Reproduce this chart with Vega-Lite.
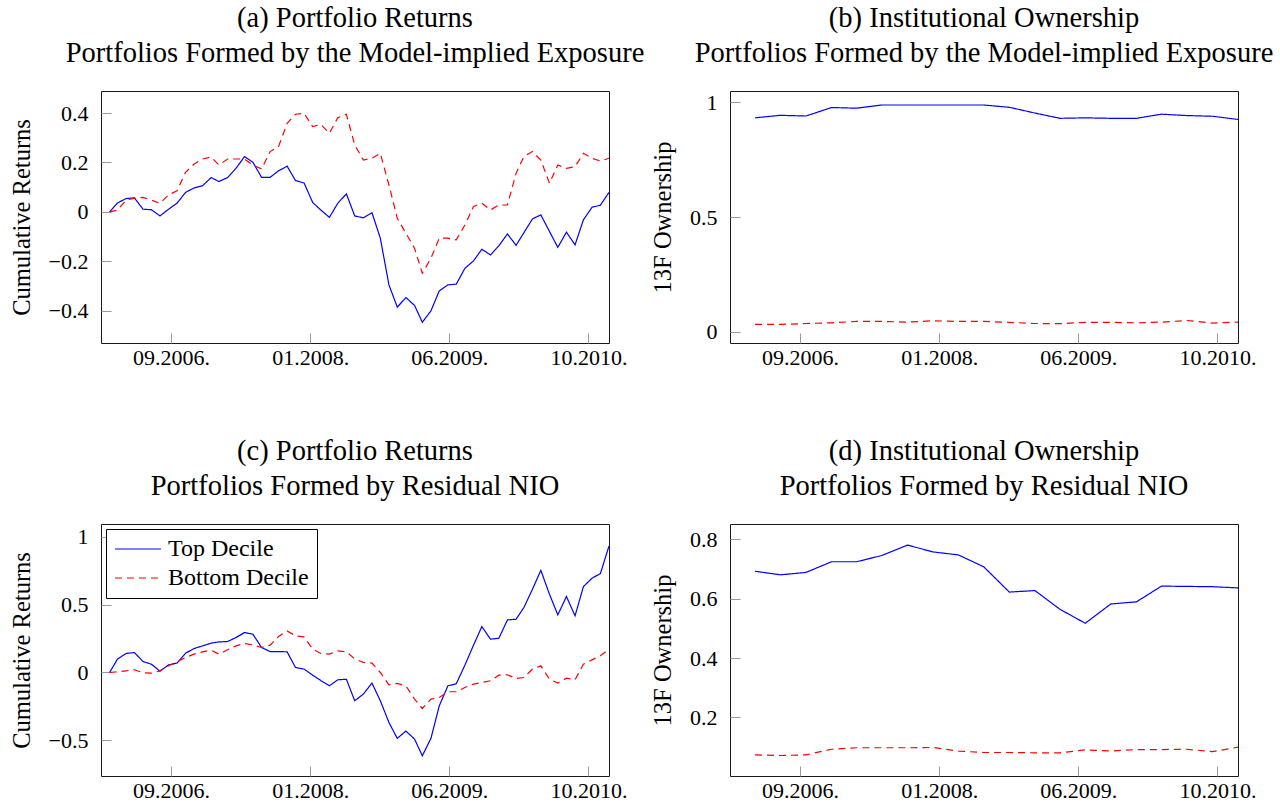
{
  "$schema": "https://vega.github.io/schema/vega-lite/v6.json",
  "background": "white",
  "padding": {"left": 8, "top": 3, "right": 0, "bottom": 0},
  "autosize": {"type": "pad"},
  "columns": 2,
  "spacing": {"row": 181, "column": 121},
  "bounds": "flush",
  "resolve": {"scale": {"x": "independent", "y": "independent", "color": "independent", "strokeDash": "independent"}},
  "datasets": {
    "returns_exposure": [
      {"date": "2006-02-01", "series": "Top Decile", "value": 0},
      {"date": "2006-03-01", "series": "Top Decile", "value": 0.036},
      {"date": "2006-04-01", "series": "Top Decile", "value": 0.054},
      {"date": "2006-05-01", "series": "Top Decile", "value": 0.057},
      {"date": "2006-06-01", "series": "Top Decile", "value": 0.011},
      {"date": "2006-07-01", "series": "Top Decile", "value": 0.009},
      {"date": "2006-08-01", "series": "Top Decile", "value": -0.016},
      {"date": "2006-09-01", "series": "Top Decile", "value": 0.011},
      {"date": "2006-10-01", "series": "Top Decile", "value": 0.035},
      {"date": "2006-11-01", "series": "Top Decile", "value": 0.079},
      {"date": "2006-12-01", "series": "Top Decile", "value": 0.097},
      {"date": "2007-01-01", "series": "Top Decile", "value": 0.106},
      {"date": "2007-02-01", "series": "Top Decile", "value": 0.139},
      {"date": "2007-03-01", "series": "Top Decile", "value": 0.123},
      {"date": "2007-04-01", "series": "Top Decile", "value": 0.139},
      {"date": "2007-05-01", "series": "Top Decile", "value": 0.176},
      {"date": "2007-06-01", "series": "Top Decile", "value": 0.224},
      {"date": "2007-07-01", "series": "Top Decile", "value": 0.201},
      {"date": "2007-08-01", "series": "Top Decile", "value": 0.140},
      {"date": "2007-09-01", "series": "Top Decile", "value": 0.140},
      {"date": "2007-10-01", "series": "Top Decile", "value": 0.166},
      {"date": "2007-11-01", "series": "Top Decile", "value": 0.185},
      {"date": "2007-12-01", "series": "Top Decile", "value": 0.127},
      {"date": "2008-01-01", "series": "Top Decile", "value": 0.117},
      {"date": "2008-02-01", "series": "Top Decile", "value": 0.038},
      {"date": "2008-03-01", "series": "Top Decile", "value": 0.008},
      {"date": "2008-04-01", "series": "Top Decile", "value": -0.022},
      {"date": "2008-05-01", "series": "Top Decile", "value": 0.035},
      {"date": "2008-06-01", "series": "Top Decile", "value": 0.073},
      {"date": "2008-07-01", "series": "Top Decile", "value": -0.016},
      {"date": "2008-08-01", "series": "Top Decile", "value": -0.024},
      {"date": "2008-09-01", "series": "Top Decile", "value": -0.003},
      {"date": "2008-10-01", "series": "Top Decile", "value": -0.106},
      {"date": "2008-11-01", "series": "Top Decile", "value": -0.295},
      {"date": "2008-12-01", "series": "Top Decile", "value": -0.385},
      {"date": "2009-01-01", "series": "Top Decile", "value": -0.346},
      {"date": "2009-02-01", "series": "Top Decile", "value": -0.378},
      {"date": "2009-03-01", "series": "Top Decile", "value": -0.446},
      {"date": "2009-04-01", "series": "Top Decile", "value": -0.400},
      {"date": "2009-05-01", "series": "Top Decile", "value": -0.319},
      {"date": "2009-06-01", "series": "Top Decile", "value": -0.295},
      {"date": "2009-07-01", "series": "Top Decile", "value": -0.292},
      {"date": "2009-08-01", "series": "Top Decile", "value": -0.228},
      {"date": "2009-09-01", "series": "Top Decile", "value": -0.198},
      {"date": "2009-10-01", "series": "Top Decile", "value": -0.151},
      {"date": "2009-11-01", "series": "Top Decile", "value": -0.174},
      {"date": "2009-12-01", "series": "Top Decile", "value": -0.137},
      {"date": "2010-01-01", "series": "Top Decile", "value": -0.089},
      {"date": "2010-02-01", "series": "Top Decile", "value": -0.135},
      {"date": "2010-03-01", "series": "Top Decile", "value": -0.084},
      {"date": "2010-04-01", "series": "Top Decile", "value": -0.028},
      {"date": "2010-05-01", "series": "Top Decile", "value": -0.012},
      {"date": "2010-06-01", "series": "Top Decile", "value": -0.079},
      {"date": "2010-07-01", "series": "Top Decile", "value": -0.143},
      {"date": "2010-08-01", "series": "Top Decile", "value": -0.082},
      {"date": "2010-09-01", "series": "Top Decile", "value": -0.133},
      {"date": "2010-10-01", "series": "Top Decile", "value": -0.032},
      {"date": "2010-11-01", "series": "Top Decile", "value": 0.019},
      {"date": "2010-12-01", "series": "Top Decile", "value": 0.027},
      {"date": "2011-01-01", "series": "Top Decile", "value": 0.079},
      {"date": "2006-02-01", "series": "Bottom Decile", "value": 0},
      {"date": "2006-03-01", "series": "Bottom Decile", "value": 0.007},
      {"date": "2006-04-01", "series": "Bottom Decile", "value": 0.048},
      {"date": "2006-05-01", "series": "Bottom Decile", "value": 0.055},
      {"date": "2006-06-01", "series": "Bottom Decile", "value": 0.059},
      {"date": "2006-07-01", "series": "Bottom Decile", "value": 0.048},
      {"date": "2006-08-01", "series": "Bottom Decile", "value": 0.035},
      {"date": "2006-09-01", "series": "Bottom Decile", "value": 0.069},
      {"date": "2006-10-01", "series": "Bottom Decile", "value": 0.085},
      {"date": "2006-11-01", "series": "Bottom Decile", "value": 0.160},
      {"date": "2006-12-01", "series": "Bottom Decile", "value": 0.193},
      {"date": "2007-01-01", "series": "Bottom Decile", "value": 0.214},
      {"date": "2007-02-01", "series": "Bottom Decile", "value": 0.222},
      {"date": "2007-03-01", "series": "Bottom Decile", "value": 0.190},
      {"date": "2007-04-01", "series": "Bottom Decile", "value": 0.214},
      {"date": "2007-05-01", "series": "Bottom Decile", "value": 0.214},
      {"date": "2007-06-01", "series": "Bottom Decile", "value": 0.214},
      {"date": "2007-07-01", "series": "Bottom Decile", "value": 0.190},
      {"date": "2007-08-01", "series": "Bottom Decile", "value": 0.174},
      {"date": "2007-09-01", "series": "Bottom Decile", "value": 0.244},
      {"date": "2007-10-01", "series": "Bottom Decile", "value": 0.264},
      {"date": "2007-11-01", "series": "Bottom Decile", "value": 0.358},
      {"date": "2007-12-01", "series": "Bottom Decile", "value": 0.395},
      {"date": "2008-01-01", "series": "Bottom Decile", "value": 0.399},
      {"date": "2008-02-01", "series": "Bottom Decile", "value": 0.345},
      {"date": "2008-03-01", "series": "Bottom Decile", "value": 0.354},
      {"date": "2008-04-01", "series": "Bottom Decile", "value": 0.318},
      {"date": "2008-05-01", "series": "Bottom Decile", "value": 0.381},
      {"date": "2008-06-01", "series": "Bottom Decile", "value": 0.395},
      {"date": "2008-07-01", "series": "Bottom Decile", "value": 0.271},
      {"date": "2008-08-01", "series": "Bottom Decile", "value": 0.210},
      {"date": "2008-09-01", "series": "Bottom Decile", "value": 0.217},
      {"date": "2008-10-01", "series": "Bottom Decile", "value": 0.237},
      {"date": "2008-11-01", "series": "Bottom Decile", "value": 0.109},
      {"date": "2008-12-01", "series": "Bottom Decile", "value": -0.026},
      {"date": "2009-01-01", "series": "Bottom Decile", "value": -0.086},
      {"date": "2009-02-01", "series": "Bottom Decile", "value": -0.147},
      {"date": "2009-03-01", "series": "Bottom Decile", "value": -0.248},
      {"date": "2009-04-01", "series": "Bottom Decile", "value": -0.187},
      {"date": "2009-05-01", "series": "Bottom Decile", "value": -0.106},
      {"date": "2009-06-01", "series": "Bottom Decile", "value": -0.106},
      {"date": "2009-07-01", "series": "Bottom Decile", "value": -0.113},
      {"date": "2009-08-01", "series": "Bottom Decile", "value": -0.053},
      {"date": "2009-09-01", "series": "Bottom Decile", "value": 0.022},
      {"date": "2009-10-01", "series": "Bottom Decile", "value": 0.035},
      {"date": "2009-11-01", "series": "Bottom Decile", "value": 0.008},
      {"date": "2009-12-01", "series": "Bottom Decile", "value": 0.028},
      {"date": "2010-01-01", "series": "Bottom Decile", "value": 0.028},
      {"date": "2010-02-01", "series": "Bottom Decile", "value": 0.156},
      {"date": "2010-03-01", "series": "Bottom Decile", "value": 0.224},
      {"date": "2010-04-01", "series": "Bottom Decile", "value": 0.244},
      {"date": "2010-05-01", "series": "Bottom Decile", "value": 0.210},
      {"date": "2010-06-01", "series": "Bottom Decile", "value": 0.116},
      {"date": "2010-07-01", "series": "Bottom Decile", "value": 0.190},
      {"date": "2010-08-01", "series": "Bottom Decile", "value": 0.176},
      {"date": "2010-09-01", "series": "Bottom Decile", "value": 0.183},
      {"date": "2010-10-01", "series": "Bottom Decile", "value": 0.237},
      {"date": "2010-11-01", "series": "Bottom Decile", "value": 0.217},
      {"date": "2010-12-01", "series": "Bottom Decile", "value": 0.206},
      {"date": "2011-01-01", "series": "Bottom Decile", "value": 0.217}
    ],
    "ownership_exposure": [
      {"date": "2006-04-01", "series": "Top Decile", "value": 0.932},
      {"date": "2006-07-01", "series": "Top Decile", "value": 0.943},
      {"date": "2006-10-01", "series": "Top Decile", "value": 0.940},
      {"date": "2007-01-01", "series": "Top Decile", "value": 0.977},
      {"date": "2007-04-01", "series": "Top Decile", "value": 0.974},
      {"date": "2007-07-01", "series": "Top Decile", "value": 0.988},
      {"date": "2007-10-01", "series": "Top Decile", "value": 0.988},
      {"date": "2008-01-01", "series": "Top Decile", "value": 0.988},
      {"date": "2008-04-01", "series": "Top Decile", "value": 0.988},
      {"date": "2008-07-01", "series": "Top Decile", "value": 0.988},
      {"date": "2008-10-01", "series": "Top Decile", "value": 0.978},
      {"date": "2009-01-01", "series": "Top Decile", "value": 0.953},
      {"date": "2009-04-01", "series": "Top Decile", "value": 0.930},
      {"date": "2009-07-01", "series": "Top Decile", "value": 0.932},
      {"date": "2009-10-01", "series": "Top Decile", "value": 0.930},
      {"date": "2010-01-01", "series": "Top Decile", "value": 0.930},
      {"date": "2010-04-01", "series": "Top Decile", "value": 0.948},
      {"date": "2010-07-01", "series": "Top Decile", "value": 0.942},
      {"date": "2010-10-01", "series": "Top Decile", "value": 0.939},
      {"date": "2011-01-01", "series": "Top Decile", "value": 0.925},
      {"date": "2006-04-01", "series": "Bottom Decile", "value": 0.032},
      {"date": "2006-07-01", "series": "Bottom Decile", "value": 0.032},
      {"date": "2006-10-01", "series": "Bottom Decile", "value": 0.036},
      {"date": "2007-01-01", "series": "Bottom Decile", "value": 0.039},
      {"date": "2007-04-01", "series": "Bottom Decile", "value": 0.045},
      {"date": "2007-07-01", "series": "Bottom Decile", "value": 0.045},
      {"date": "2007-10-01", "series": "Bottom Decile", "value": 0.042},
      {"date": "2008-01-01", "series": "Bottom Decile", "value": 0.048},
      {"date": "2008-04-01", "series": "Bottom Decile", "value": 0.045},
      {"date": "2008-07-01", "series": "Bottom Decile", "value": 0.045},
      {"date": "2008-10-01", "series": "Bottom Decile", "value": 0.041},
      {"date": "2009-01-01", "series": "Bottom Decile", "value": 0.036},
      {"date": "2009-04-01", "series": "Bottom Decile", "value": 0.035},
      {"date": "2009-07-01", "series": "Bottom Decile", "value": 0.041},
      {"date": "2009-10-01", "series": "Bottom Decile", "value": 0.041},
      {"date": "2010-01-01", "series": "Bottom Decile", "value": 0.039},
      {"date": "2010-04-01", "series": "Bottom Decile", "value": 0.042},
      {"date": "2010-07-01", "series": "Bottom Decile", "value": 0.049},
      {"date": "2010-10-01", "series": "Bottom Decile", "value": 0.038},
      {"date": "2011-01-01", "series": "Bottom Decile", "value": 0.042}
    ],
    "returns_nio": [
      {"date": "2006-02-01", "series": "Top Decile", "value": 0},
      {"date": "2006-03-01", "series": "Top Decile", "value": 0.098},
      {"date": "2006-04-01", "series": "Top Decile", "value": 0.140},
      {"date": "2006-05-01", "series": "Top Decile", "value": 0.147},
      {"date": "2006-06-01", "series": "Top Decile", "value": 0.081},
      {"date": "2006-07-01", "series": "Top Decile", "value": 0.061},
      {"date": "2006-08-01", "series": "Top Decile", "value": 0.010},
      {"date": "2006-09-01", "series": "Top Decile", "value": 0.056},
      {"date": "2006-10-01", "series": "Top Decile", "value": 0.069},
      {"date": "2006-11-01", "series": "Top Decile", "value": 0.142},
      {"date": "2006-12-01", "series": "Top Decile", "value": 0.176},
      {"date": "2007-01-01", "series": "Top Decile", "value": 0.196},
      {"date": "2007-02-01", "series": "Top Decile", "value": 0.216},
      {"date": "2007-03-01", "series": "Top Decile", "value": 0.225},
      {"date": "2007-04-01", "series": "Top Decile", "value": 0.228},
      {"date": "2007-05-01", "series": "Top Decile", "value": 0.257},
      {"date": "2007-06-01", "series": "Top Decile", "value": 0.294},
      {"date": "2007-07-01", "series": "Top Decile", "value": 0.282},
      {"date": "2007-08-01", "series": "Top Decile", "value": 0.184},
      {"date": "2007-09-01", "series": "Top Decile", "value": 0.154},
      {"date": "2007-10-01", "series": "Top Decile", "value": 0.154},
      {"date": "2007-11-01", "series": "Top Decile", "value": 0.152},
      {"date": "2007-12-01", "series": "Top Decile", "value": 0.037},
      {"date": "2008-01-01", "series": "Top Decile", "value": 0.025},
      {"date": "2008-02-01", "series": "Top Decile", "value": -0.020},
      {"date": "2008-03-01", "series": "Top Decile", "value": -0.059},
      {"date": "2008-04-01", "series": "Top Decile", "value": -0.098},
      {"date": "2008-05-01", "series": "Top Decile", "value": -0.054},
      {"date": "2008-06-01", "series": "Top Decile", "value": -0.050},
      {"date": "2008-07-01", "series": "Top Decile", "value": -0.208},
      {"date": "2008-08-01", "series": "Top Decile", "value": -0.159},
      {"date": "2008-09-01", "series": "Top Decile", "value": -0.078},
      {"date": "2008-10-01", "series": "Top Decile", "value": -0.208},
      {"date": "2008-11-01", "series": "Top Decile", "value": -0.368},
      {"date": "2008-12-01", "series": "Top Decile", "value": -0.485},
      {"date": "2009-01-01", "series": "Top Decile", "value": -0.431},
      {"date": "2009-02-01", "series": "Top Decile", "value": -0.490},
      {"date": "2009-03-01", "series": "Top Decile", "value": -0.613},
      {"date": "2009-04-01", "series": "Top Decile", "value": -0.485},
      {"date": "2009-05-01", "series": "Top Decile", "value": -0.245},
      {"date": "2009-06-01", "series": "Top Decile", "value": -0.098},
      {"date": "2009-07-01", "series": "Top Decile", "value": -0.083},
      {"date": "2009-08-01", "series": "Top Decile", "value": 0.054},
      {"date": "2009-09-01", "series": "Top Decile", "value": 0.201},
      {"date": "2009-10-01", "series": "Top Decile", "value": 0.338},
      {"date": "2009-11-01", "series": "Top Decile", "value": 0.245},
      {"date": "2009-12-01", "series": "Top Decile", "value": 0.252},
      {"date": "2010-01-01", "series": "Top Decile", "value": 0.387},
      {"date": "2010-02-01", "series": "Top Decile", "value": 0.392},
      {"date": "2010-03-01", "series": "Top Decile", "value": 0.478},
      {"date": "2010-04-01", "series": "Top Decile", "value": 0.613},
      {"date": "2010-05-01", "series": "Top Decile", "value": 0.752},
      {"date": "2010-06-01", "series": "Top Decile", "value": 0.576},
      {"date": "2010-07-01", "series": "Top Decile", "value": 0.424},
      {"date": "2010-08-01", "series": "Top Decile", "value": 0.559},
      {"date": "2010-09-01", "series": "Top Decile", "value": 0.417},
      {"date": "2010-10-01", "series": "Top Decile", "value": 0.632},
      {"date": "2010-11-01", "series": "Top Decile", "value": 0.694},
      {"date": "2010-12-01", "series": "Top Decile", "value": 0.728},
      {"date": "2011-01-01", "series": "Top Decile", "value": 0.931},
      {"date": "2006-02-01", "series": "Bottom Decile", "value": 0},
      {"date": "2006-03-01", "series": "Bottom Decile", "value": 0.005},
      {"date": "2006-04-01", "series": "Bottom Decile", "value": 0.012},
      {"date": "2006-05-01", "series": "Bottom Decile", "value": 0.020},
      {"date": "2006-06-01", "series": "Bottom Decile", "value": -0.002},
      {"date": "2006-07-01", "series": "Bottom Decile", "value": -0.005},
      {"date": "2006-08-01", "series": "Bottom Decile", "value": 0.012},
      {"date": "2006-09-01", "series": "Bottom Decile", "value": 0.049},
      {"date": "2006-10-01", "series": "Bottom Decile", "value": 0.078},
      {"date": "2006-11-01", "series": "Bottom Decile", "value": 0.110},
      {"date": "2006-12-01", "series": "Bottom Decile", "value": 0.135},
      {"date": "2007-01-01", "series": "Bottom Decile", "value": 0.152},
      {"date": "2007-02-01", "series": "Bottom Decile", "value": 0.164},
      {"date": "2007-03-01", "series": "Bottom Decile", "value": 0.135},
      {"date": "2007-04-01", "series": "Bottom Decile", "value": 0.167},
      {"date": "2007-05-01", "series": "Bottom Decile", "value": 0.196},
      {"date": "2007-06-01", "series": "Bottom Decile", "value": 0.213},
      {"date": "2007-07-01", "series": "Bottom Decile", "value": 0.203},
      {"date": "2007-08-01", "series": "Bottom Decile", "value": 0.184},
      {"date": "2007-09-01", "series": "Bottom Decile", "value": 0.201},
      {"date": "2007-10-01", "series": "Bottom Decile", "value": 0.265},
      {"date": "2007-11-01", "series": "Bottom Decile", "value": 0.306},
      {"date": "2007-12-01", "series": "Bottom Decile", "value": 0.270},
      {"date": "2008-01-01", "series": "Bottom Decile", "value": 0.262},
      {"date": "2008-02-01", "series": "Bottom Decile", "value": 0.172},
      {"date": "2008-03-01", "series": "Bottom Decile", "value": 0.140},
      {"date": "2008-04-01", "series": "Bottom Decile", "value": 0.135},
      {"date": "2008-05-01", "series": "Bottom Decile", "value": 0.159},
      {"date": "2008-06-01", "series": "Bottom Decile", "value": 0.152},
      {"date": "2008-07-01", "series": "Bottom Decile", "value": 0.100},
      {"date": "2008-08-01", "series": "Bottom Decile", "value": 0.074},
      {"date": "2008-09-01", "series": "Bottom Decile", "value": 0.069},
      {"date": "2008-10-01", "series": "Bottom Decile", "value": 0.000},
      {"date": "2008-11-01", "series": "Bottom Decile", "value": -0.091},
      {"date": "2008-12-01", "series": "Bottom Decile", "value": -0.081},
      {"date": "2009-01-01", "series": "Bottom Decile", "value": -0.098},
      {"date": "2009-02-01", "series": "Bottom Decile", "value": -0.196},
      {"date": "2009-03-01", "series": "Bottom Decile", "value": -0.265},
      {"date": "2009-04-01", "series": "Bottom Decile", "value": -0.196},
      {"date": "2009-05-01", "series": "Bottom Decile", "value": -0.184},
      {"date": "2009-06-01", "series": "Bottom Decile", "value": -0.142},
      {"date": "2009-07-01", "series": "Bottom Decile", "value": -0.142},
      {"date": "2009-08-01", "series": "Bottom Decile", "value": -0.110},
      {"date": "2009-09-01", "series": "Bottom Decile", "value": -0.086},
      {"date": "2009-10-01", "series": "Bottom Decile", "value": -0.074},
      {"date": "2009-11-01", "series": "Bottom Decile", "value": -0.061},
      {"date": "2009-12-01", "series": "Bottom Decile", "value": -0.020},
      {"date": "2010-01-01", "series": "Bottom Decile", "value": -0.017},
      {"date": "2010-02-01", "series": "Bottom Decile", "value": -0.044},
      {"date": "2010-03-01", "series": "Bottom Decile", "value": -0.037},
      {"date": "2010-04-01", "series": "Bottom Decile", "value": 0.025},
      {"date": "2010-05-01", "series": "Bottom Decile", "value": 0.049},
      {"date": "2010-06-01", "series": "Bottom Decile", "value": -0.049},
      {"date": "2010-07-01", "series": "Bottom Decile", "value": -0.078},
      {"date": "2010-08-01", "series": "Bottom Decile", "value": -0.042},
      {"date": "2010-09-01", "series": "Bottom Decile", "value": -0.054},
      {"date": "2010-10-01", "series": "Bottom Decile", "value": 0.061},
      {"date": "2010-11-01", "series": "Bottom Decile", "value": 0.093},
      {"date": "2010-12-01", "series": "Bottom Decile", "value": 0.123},
      {"date": "2011-01-01", "series": "Bottom Decile", "value": 0.172}
    ],
    "ownership_nio": [
      {"date": "2006-04-01", "series": "Top Decile", "value": 0.692},
      {"date": "2006-07-01", "series": "Top Decile", "value": 0.680},
      {"date": "2006-10-01", "series": "Top Decile", "value": 0.688},
      {"date": "2007-01-01", "series": "Top Decile", "value": 0.724},
      {"date": "2007-04-01", "series": "Top Decile", "value": 0.724},
      {"date": "2007-07-01", "series": "Top Decile", "value": 0.745},
      {"date": "2007-10-01", "series": "Top Decile", "value": 0.780},
      {"date": "2008-01-01", "series": "Top Decile", "value": 0.757},
      {"date": "2008-04-01", "series": "Top Decile", "value": 0.747},
      {"date": "2008-07-01", "series": "Top Decile", "value": 0.707},
      {"date": "2008-10-01", "series": "Top Decile", "value": 0.622},
      {"date": "2009-01-01", "series": "Top Decile", "value": 0.627},
      {"date": "2009-04-01", "series": "Top Decile", "value": 0.564},
      {"date": "2009-07-01", "series": "Top Decile", "value": 0.517},
      {"date": "2009-10-01", "series": "Top Decile", "value": 0.582},
      {"date": "2010-01-01", "series": "Top Decile", "value": 0.589},
      {"date": "2010-04-01", "series": "Top Decile", "value": 0.642},
      {"date": "2010-07-01", "series": "Top Decile", "value": 0.641},
      {"date": "2010-10-01", "series": "Top Decile", "value": 0.640},
      {"date": "2011-01-01", "series": "Top Decile", "value": 0.636},
      {"date": "2006-04-01", "series": "Bottom Decile", "value": 0.074},
      {"date": "2006-07-01", "series": "Bottom Decile", "value": 0.072},
      {"date": "2006-10-01", "series": "Bottom Decile", "value": 0.074},
      {"date": "2007-01-01", "series": "Bottom Decile", "value": 0.093},
      {"date": "2007-04-01", "series": "Bottom Decile", "value": 0.098},
      {"date": "2007-07-01", "series": "Bottom Decile", "value": 0.098},
      {"date": "2007-10-01", "series": "Bottom Decile", "value": 0.098},
      {"date": "2008-01-01", "series": "Bottom Decile", "value": 0.099},
      {"date": "2008-04-01", "series": "Bottom Decile", "value": 0.087},
      {"date": "2008-07-01", "series": "Bottom Decile", "value": 0.082},
      {"date": "2008-10-01", "series": "Bottom Decile", "value": 0.082},
      {"date": "2009-01-01", "series": "Bottom Decile", "value": 0.081},
      {"date": "2009-04-01", "series": "Bottom Decile", "value": 0.081},
      {"date": "2009-07-01", "series": "Bottom Decile", "value": 0.091},
      {"date": "2009-10-01", "series": "Bottom Decile", "value": 0.087},
      {"date": "2010-01-01", "series": "Bottom Decile", "value": 0.092},
      {"date": "2010-04-01", "series": "Bottom Decile", "value": 0.092},
      {"date": "2010-07-01", "series": "Bottom Decile", "value": 0.093},
      {"date": "2010-10-01", "series": "Bottom Decile", "value": 0.085},
      {"date": "2011-01-01", "series": "Bottom Decile", "value": 0.100}
    ]
  },
  "concat": [
    {
      "title": {"text": ["(a) Portfolio Returns", "Portfolios Formed by the Model-implied Exposure"]},
      "width": 508, "height": 252,
      "data": {"name": "returns_exposure"},
      "mark": {"type": "line", "strokeWidth": 1.2},
      "encoding": {
        "x": {"field": "date", "type": "temporal", "title": null,
          "scale": {"type": "utc", "domain": [{"year": 2006, "month": 1, "date": 1, "utc": true}, {"year": 2011, "month": 1, "date": 1, "utc": true}]},
          "axis": {"labelExpr": "utcFormat(datum.value, '%m.%Y.')", "values": [{"year": 2006, "month": 9, "date": 10, "utc": true}, {"year": 2008, "month": 1, "date": 23, "utc": true}, {"year": 2009, "month": 6, "date": 6, "utc": true}, {"year": 2010, "month": 10, "date": 19, "utc": true}]}},
        "y": {"field": "value", "type": "quantitative", "title": "Cumulative Returns",
          "scale": {"domain": [-0.53, 0.489], "nice": false, "zero": false},
          "axis": {"values": [-0.4, -0.2, 0, 0.2, 0.4], "format": "~g"}},
        "color": {"field": "series", "type": "nominal", "scale": {"domain": ["Top Decile", "Bottom Decile"], "range": ["#0000ff", "#ff0000"]}, "legend": null},
        "strokeDash": {"field": "series", "type": "nominal", "scale": {"domain": ["Top Decile", "Bottom Decile"], "range": [[1, 0], [7, 5]]}, "legend": null}
      }
    },
    {
      "title": {"text": ["(b) Institutional Ownership", "Portfolios Formed by the Model-implied Exposure"]},
      "width": 508, "height": 252,
      "data": {"name": "ownership_exposure"},
      "mark": {"type": "line", "strokeWidth": 1.2},
      "encoding": {
        "x": {"field": "date", "type": "temporal", "title": null,
          "scale": {"type": "utc", "domain": [{"year": 2006, "month": 1, "date": 1, "utc": true}, {"year": 2011, "month": 1, "date": 1, "utc": true}]},
          "axis": {"labelExpr": "utcFormat(datum.value, '%m.%Y.')", "values": [{"year": 2006, "month": 9, "date": 10, "utc": true}, {"year": 2008, "month": 1, "date": 23, "utc": true}, {"year": 2009, "month": 6, "date": 6, "utc": true}, {"year": 2010, "month": 10, "date": 19, "utc": true}]}},
        "y": {"field": "value", "type": "quantitative", "title": "13F Ownership",
          "scale": {"domain": [-0.049, 1.049], "nice": false, "zero": false},
          "axis": {"values": [0, 0.5, 1], "format": "~g"}},
        "color": {"field": "series", "type": "nominal", "scale": {"domain": ["Top Decile", "Bottom Decile"], "range": ["#0000ff", "#ff0000"]}, "legend": null},
        "strokeDash": {"field": "series", "type": "nominal", "scale": {"domain": ["Top Decile", "Bottom Decile"], "range": [[1, 0], [7, 5]]}, "legend": null}
      }
    },
    {
      "title": {"text": ["(c) Portfolio Returns", "Portfolios Formed by Residual NIO"]},
      "width": 508, "height": 252,
      "data": {"name": "returns_nio"},
      "mark": {"type": "line", "strokeWidth": 1.2},
      "encoding": {
        "x": {"field": "date", "type": "temporal", "title": null,
          "scale": {"type": "utc", "domain": [{"year": 2006, "month": 1, "date": 1, "utc": true}, {"year": 2011, "month": 1, "date": 1, "utc": true}]},
          "axis": {"labelExpr": "utcFormat(datum.value, '%m.%Y.')", "values": [{"year": 2006, "month": 9, "date": 10, "utc": true}, {"year": 2008, "month": 1, "date": 23, "utc": true}, {"year": 2009, "month": 6, "date": 6, "utc": true}, {"year": 2010, "month": 10, "date": 19, "utc": true}]}},
        "y": {"field": "value", "type": "quantitative", "title": "Cumulative Returns",
          "scale": {"domain": [-0.762, 1.093], "nice": false, "zero": false},
          "axis": {"values": [-0.5, 0, 0.5, 1], "format": "~g"}},
        "color": {"field": "series", "type": "nominal", "scale": {"domain": ["Top Decile", "Bottom Decile"], "range": ["#0000ff", "#ff0000"]},
          "legend": {"title": null, "orient": "top-left", "offset": 5}},
        "strokeDash": {"field": "series", "type": "nominal", "scale": {"domain": ["Top Decile", "Bottom Decile"], "range": [[1, 0], [7, 5]]},
          "legend": {"title": null, "orient": "top-left", "offset": 5}}
      }
    },
    {
      "title": {"text": ["(d) Institutional Ownership", "Portfolios Formed by Residual NIO"]},
      "width": 508, "height": 252,
      "data": {"name": "ownership_nio"},
      "mark": {"type": "line", "strokeWidth": 1.2},
      "encoding": {
        "x": {"field": "date", "type": "temporal", "title": null,
          "scale": {"type": "utc", "domain": [{"year": 2006, "month": 1, "date": 1, "utc": true}, {"year": 2011, "month": 1, "date": 1, "utc": true}]},
          "axis": {"labelExpr": "utcFormat(datum.value, '%m.%Y.')", "values": [{"year": 2006, "month": 9, "date": 10, "utc": true}, {"year": 2008, "month": 1, "date": 23, "utc": true}, {"year": 2009, "month": 6, "date": 6, "utc": true}, {"year": 2010, "month": 10, "date": 19, "utc": true}]}},
        "y": {"field": "value", "type": "quantitative", "title": "13F Ownership",
          "scale": {"domain": [0.003, 0.851], "nice": false, "zero": false},
          "axis": {"values": [0.2, 0.4, 0.6, 0.8], "format": "~g"}},
        "color": {"field": "series", "type": "nominal", "scale": {"domain": ["Top Decile", "Bottom Decile"], "range": ["#0000ff", "#ff0000"]}, "legend": null},
        "strokeDash": {"field": "series", "type": "nominal", "scale": {"domain": ["Top Decile", "Bottom Decile"], "range": [[1, 0], [7, 5]]}, "legend": null}
      }
    }
  ],
  "config": {
    "font": "Liberation Serif, Times New Roman, serif",
    "view": {"stroke": "#1a1a1a", "strokeWidth": 1},
    "axis": {
      "domain": false, "grid": false,
      "tickSize": -10, "tickColor": "#999999", "tickWidth": 1,
      "labelFont": "Liberation Serif, Times New Roman, serif", "labelFontSize": 22, "labelColor": "#000000",
      "labelFlush": false, "labelOverlap": false,
      "titleFont": "Liberation Serif, Times New Roman, serif", "titleFontSize": 24.5, "titleFontWeight": "normal", "titleColor": "#000000", "titlePadding": 14
    },
    "axisX": {"labelPadding": 14},
    "axisY": {"labelPadding": 23},
    "title": {"font": "Liberation Serif, Times New Roman, serif", "fontSize": 28.5, "fontWeight": "normal", "color": "#000000", "lineHeight": 35, "offset": 24, "anchor": "middle", "frame": "group"},
    "legend": {
      "fillColor": "#ffffff", "strokeColor": "#000000", "padding": 8, "cornerRadius": 0,
      "symbolType": "stroke", "symbolSize": 2116, "symbolStrokeWidth": 1.2,
      "labelFont": "Liberation Serif, Times New Roman, serif", "labelFontSize": 24, "labelColor": "#000000", "labelOffset": 6, "labelLimit": 300,
      "clipHeight": 24, "rowPadding": 5
    }
  }
}
